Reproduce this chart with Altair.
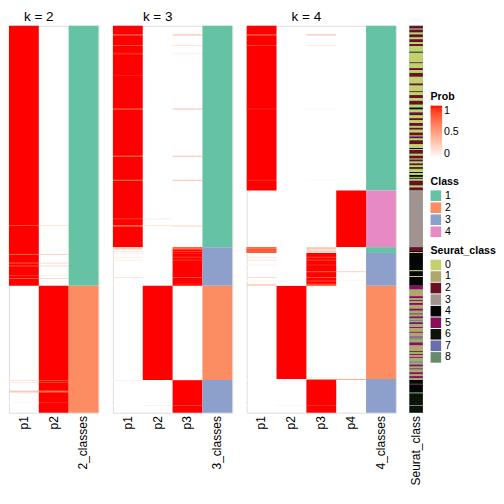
import altair as alt
import pandas as pd

N = 402  # number of samples (rows), top to bottom

# class runs per k: (class, number of rows)
k2_runs = [(1, 270), (2, 132)]
k3_runs = [(1, 230), (3, 40), (2, 98), (3, 34)]
k4_runs = [(1, 171), (4, 59), (1, 6), (3, 34), (2, 97), (3, 35)]

# rows whose membership probabilities differ from a clean 0/1 split:
# (first row, end row, [p1, p2, ...])
k2_over = [
    (207, 208, [0.85, 0.15]), (237, 238, [0.75, 0.25]), (246, 247, [0.8, 0.2]),
    (249, 250, [0.8, 0.2]), (259, 260, [0.93, 0.07]), (262, 263, [0.8, 0.2]),
    (368, 369, [0.15, 0.85]), (370, 371, [0.1, 0.9]), (379, 381, [0.3, 0.7]),
    (391, 392, [0.05, 0.95]),
]
k3_over = [
    (9, 10, [0.6, 0, 0.4]), (20, 21, [0.85, 0, 0.15]), (28, 30, [0.95, 0, 0.05]),
    (51, 52, [0.97, 0, 0.03]), (86, 87, [0.65, 0, 0.35]), (135, 136, [0.65, 0, 0.35]),
    (160, 161, [0.65, 0, 0.35]), (200, 201, [0.9, 0.1, 0]), (207, 208, [0.75, 0.15, 0.1]),
    (208, 209, [0.85, 0, 0.15]),
    (230, 232, [0.25, 0, 0.75]), (232, 233, [0.15, 0, 0.85]), (234, 235, [0.12, 0, 0.88]),
    (236, 237, [0.05, 0, 0.95]), (240, 241, [0.1, 0, 0.9]), (243, 244, [0.1, 0, 0.9]),
    (261, 262, [0.15, 0, 0.85]), (268, 269, [0.03, 0, 0.97]),
    (368, 369, [0.08, 0, 0.92]), (394, 395, [0, 0.08, 0.92]),
]
k4_over = [
    (9, 10, [0.6, 0, 0.4, 0]), (20, 21, [0.9, 0, 0.1, 0]), (86, 87, [0.95, 0, 0.05, 0]),
    (160, 161, [0.95, 0, 0.05, 0]),
    (230, 232, [0.7, 0, 0.3, 0]), (232, 236, [0.8, 0, 0.2, 0]),
    (240, 241, [0.15, 0, 0.85, 0]), (243, 244, [0.15, 0, 0.85, 0]), (248, 249, [0.05, 0, 0.95, 0]),
    (255, 256, [0, 0, 0.75, 0.25]), (261, 262, [0.2, 0, 0.8, 0]), (264, 265, [0, 0, 0.95, 0.05]),
    (265, 266, [0.05, 0, 0.95, 0]), (268, 269, [0.2, 0, 0.8, 0]), (269, 270, [0.35, 0, 0.65, 0]),
    (367, 368, [0, 0, 0.55, 0.45]), (394, 395, [0, 0.05, 0.95, 0]),
]

# Seurat class strip: (first row, class)
seurat_starts = [
    (0, 2), (3, 0), (4, 2), (7, 0), (9, 2), (12, 0), (14, 2), (17, 0), (19, 2), (21, 0),
    (27, 4), (28, 0), (38, 2), (39, 0), (44, 2), (46, 0), (49, 2), (53, 0), (60, 2), (62, 0),
    (68, 2), (69, 0), (72, 2), (75, 0), (78, 2), (82, 0), (85, 4), (87, 0), (90, 2), (93, 0),
    (96, 2), (98, 0), (101, 2), (104, 0), (106, 2), (108, 0), (111, 2), (114, 0), (115, 2),
    (117, 0), (119, 2), (123, 0), (127, 4), (128, 0), (129, 2), (133, 0), (135, 2), (138, 0),
    (139, 2), (141, 0), (143, 2), (145, 0), (147, 4), (148, 2), (149, 0), (152, 4), (153, 0),
    (155, 4), (157, 0), (158, 4), (159, 0), (161, 2), (166, 0), (168, 2), (171, 3),
    (230, 2), (234, 4), (235, 0), (236, 4), (254, 0), (255, 4), (260, 0), (261, 4),
    (270, 5), (274, 1), (281, 5), (283, 1), (285, 5), (286, 1), (288, 5), (290, 1), (294, 5),
    (296, 1), (299, 5), (300, 1), (302, 5), (304, 1), (306, 7), (307, 1), (308, 5), (310, 1),
    (313, 5), (314, 1), (318, 5), (319, 1), (323, 5), (324, 1), (325, 7), (326, 1), (329, 5),
    (332, 1), (338, 5), (339, 1), (341, 5), (342, 1), (344, 5), (345, 1), (349, 7), (350, 1),
    (352, 5), (354, 1), (356, 5), (357, 1), (360, 5), (362, 1), (364, 5), (366, 1), (368, 4),
    (372, 2), (373, 4), (381, 8), (382, 6), (394, 8), (395, 6),
]

class_colors = ["#66C2A5", "#FC8D62", "#8DA0CB", "#E78AC3"]
seurat_colors = ["#C3D06E", "#AFA76E", "#6B1024", "#A1938F", "#050505",
                 "#8A0E5C", "#0E1309", "#6A6EAE", "#688A6C"]

FONT = "Liberation Sans"
H = 402
COLW = 31

prob_scale = alt.Scale(domain=[0, 1], range=["#FFFFFF", "#FF0000"], interpolate="lab")
class_scale = alt.Scale(domain=["1", "2", "3", "4"], range=class_colors)
seurat_scale = alt.Scale(domain=[str(i) for i in range(9)], range=seurat_colors)
yscale = alt.Scale(domain=[0, N], reverse=True, nice=False, zero=False)


def xaxis():
    return alt.Axis(title=None, labelAngle=270, domain=False, ticks=False,
                    labelFontSize=12.5, labelPadding=3, labelColor="black", labelFont=FONT)


def build(k, runs, over):
    # base blocks: the assigned class column is fully red over each run
    base = []
    crows = []
    pos = 0
    for c, n in runs:
        base.append(dict(col=f"p{c}", r0=pos, r1=pos + n, p=1.0))
        crows.append(dict(col=f"{k}_classes", r0=pos, r1=pos + n, cls=str(c)))
        pos += n
    # rows with mixed membership, drawn on top
    top = []
    for s, e, p in over:
        for j, v in enumerate(p):
            top.append(dict(col=f"p{j+1}", r0=s, r1=e, p=float(v)))
    return pd.DataFrame(base), pd.DataFrame(top), pd.DataFrame(crows)


def panel(k, runs, over):
    dfb, dft, dfc = build(k, runs, over)
    cols = [f"p{j+1}" for j in range(k)] + [f"{k}_classes"]
    x = alt.X("col:N", sort=cols,
              scale=alt.Scale(domain=cols, paddingInner=0, paddingOuter=0, round=False),
              axis=xaxis())
    y = alt.Y("r0:Q", scale=yscale, axis=None)
    color = alt.Color("p:Q", scale=prob_scale, legend=None)
    base = alt.Chart(dfb).mark_rect(strokeWidth=0).encode(x=x, y=y, y2="r1:Q", color=color)
    mixed = alt.Chart(dft).mark_rect(strokeWidth=0).encode(x=x, y=y, y2="r1:Q", color=color)
    clsl = alt.Chart(dfc).mark_rect(strokeWidth=0).encode(
        x=x, y=y, y2="r1:Q",
        color=alt.Color("cls:N", scale=class_scale, legend=None))
    w = COLW * (k + 1)
    return alt.layer(alt.layer(base, mixed), clsl).resolve_scale(color="independent").properties(
        width=w, height=H,
        title=alt.TitleParams(f"k = {k}", dx=-COLW / 2, fontSize=14, fontWeight="normal",
                              font=FONT, color="black", offset=2))


# Seurat strip
srows = []
for i, (s, c) in enumerate(seurat_starts):
    e = seurat_starts[i + 1][0] if i + 1 < len(seurat_starts) else N
    srows.append(dict(col="Seurat_class", r0=s, r1=e, sc=str(c)))
dfs = pd.DataFrame(srows)
dfd = pd.DataFrame([dict(col="Seurat_class", r0=0, r1=N, p=0.0, cls="1")])

sx = alt.X("col:N", scale=alt.Scale(paddingInner=0, paddingOuter=0, round=False), axis=xaxis())
sy = alt.Y("r0:Q", scale=yscale, axis=None)

leg_common = dict(orient="none", titleFontSize=11, titleFontWeight="bold", titleFont=FONT,
                  titleColor="black", labelFontSize=11, labelFont=FONT, labelColor="black",
                  titlePadding=4)

dummy_prob = alt.Chart(dfd).mark_rect(strokeWidth=0).encode(
    x=sx, y=sy, y2="r1:Q",
    color=alt.Color("p:Q", scale=prob_scale, title="Prob",
                    legend=alt.Legend(legendX=22, legendY=68, direction="vertical",
                                      gradientLength=55, gradientThickness=12,
                                      gradientStrokeWidth=0, values=[0, 0.5, 1],
                                      format="~g", labelOverlap=False, **leg_common)))
dummy_cls = alt.Chart(dfd).mark_rect(strokeWidth=0).encode(
    x=sx, y=sy, y2="r1:Q",
    color=alt.Color("cls:N", scale=class_scale, title="Class",
                    legend=alt.Legend(legendX=22, legendY=156, symbolType="square",
                                      symbolSize=121, symbolStrokeWidth=0, rowPadding=0.5,
                                      **leg_common)))
seurat = alt.Chart(dfs).mark_rect(strokeWidth=0).encode(
    x=sx, y=sy, y2="r1:Q",
    color=alt.Color("sc:N", scale=seurat_scale, title="Seurat_class",
                    legend=alt.Legend(legendX=22, legendY=228, symbolType="square",
                                      symbolSize=121, symbolStrokeWidth=0, rowPadding=0,
                                      **leg_common)))
seurat_panel = alt.layer(dummy_prob, dummy_cls, seurat).resolve_scale(
    color="independent").properties(width=14, height=H,
                                    view=alt.ViewBackground(strokeOpacity=0))

chart = alt.hconcat(
    panel(2, k2_runs, k2_over),
    panel(3, k3_runs, k3_over),
    panel(4, k4_runs, k4_over),
    seurat_panel,
    spacing=13,
).resolve_scale(color="independent", x="independent").properties(
    padding={"left": 0, "top": -8, "right": 0, "bottom": 0}
).configure_view(stroke="#333333", strokeWidth=1).configure(font=FONT)

chart.save("out.html", embed_options={"renderer": "svg", "actions": False})
